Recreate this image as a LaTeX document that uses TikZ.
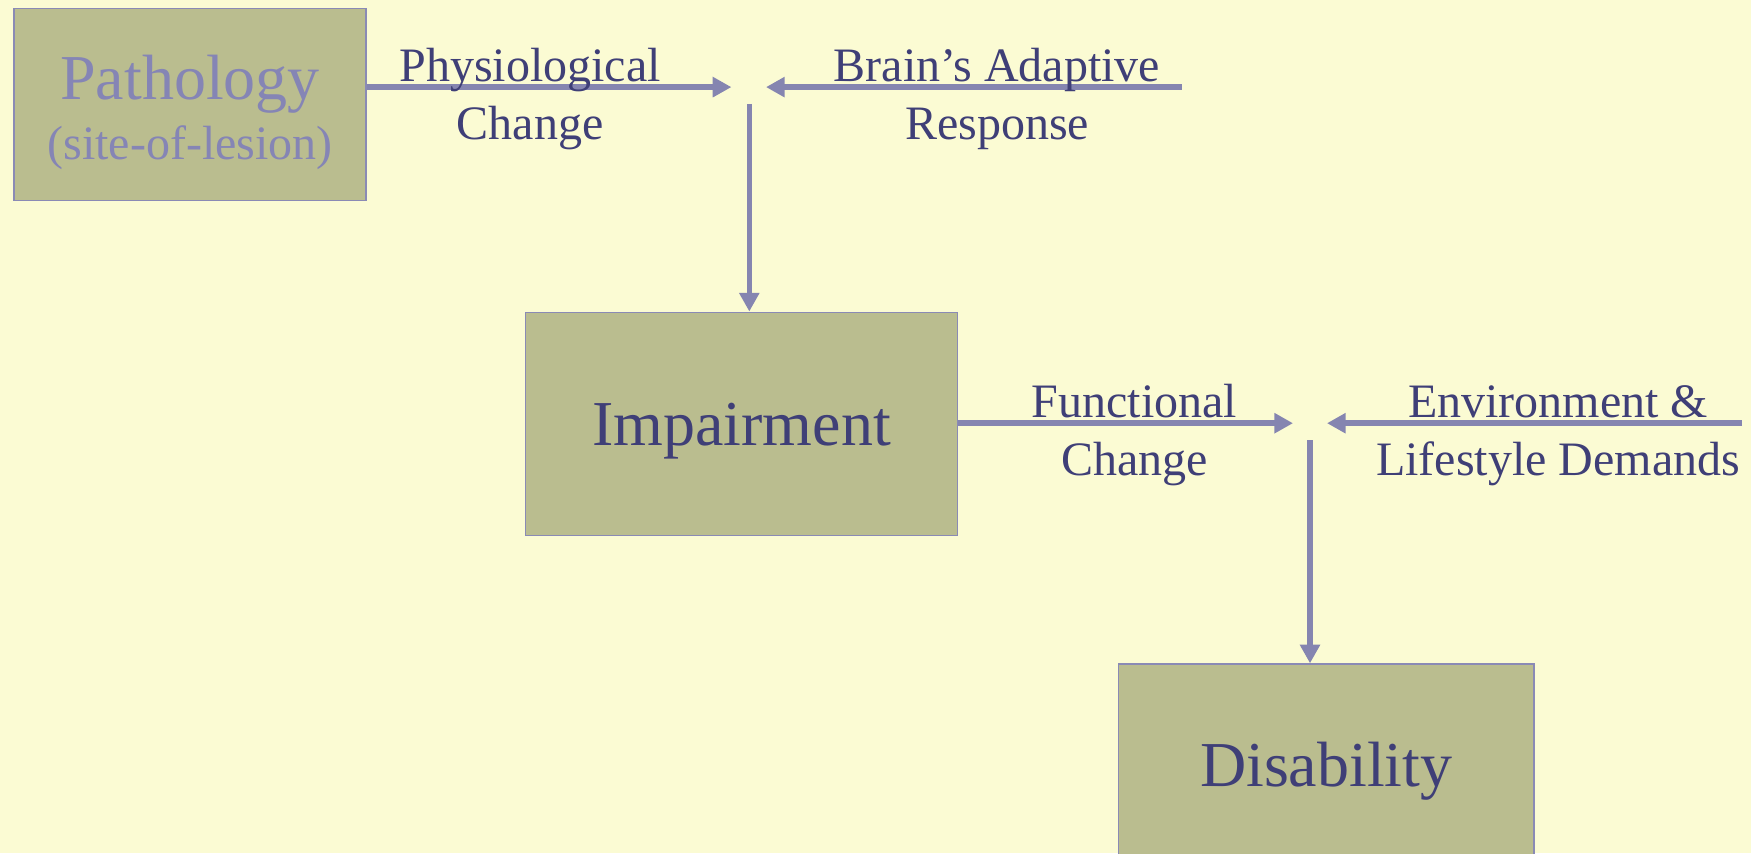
\documentclass[tikz,border=0pt]{standalone}
\usepackage{fontspec}
\setmainfont{Liberation Serif}
\usetikzlibrary{arrows.meta}
\definecolor{bg}{HTML}{FBFBD3}
\definecolor{boxfill}{HTML}{BABD8F}
\definecolor{boxline}{HTML}{8A8AB5}
\definecolor{txt}{HTML}{3F3F77}
\definecolor{lighttxt}{HTML}{8585B5}
\definecolor{arrcol}{HTML}{8585B0}
\begin{document}
\begin{tikzpicture}[x=0.75pt,y=-0.75pt,
  box/.style={draw=boxline, line width=1.1pt, fill=boxfill, inner sep=0pt, anchor=north west, align=center},
  conn/.style={draw=arrcol, line width=4.1pt, -{Triangle[length=14pt,width=14.5pt]}},
  lbl/.style={text=txt, font=\fontsize{36}{43.5}\selectfont, align=center, inner sep=0pt},
  big/.style={font=\fontsize{48}{56}\selectfont}]
\useasboundingbox (0,0) rectangle (1751,853);
\clip (0,0) rectangle (1751,853);
\fill[bg] (0,0) rectangle (1751,853);

% boxes
\node[box, minimum width=264pt, minimum height=144pt] (path) at (13.4,7.8)
  {\rule{0pt}{45pt}\textcolor{lighttxt}{\fontsize{48}{52}\selectfont Pathology}\\[7.7pt]
   \textcolor{lighttxt}{\fontsize{36}{40}\selectfont (site-of-lesion)}};
\node[box, minimum width=324pt, minimum height=167.6pt, big, text=txt,
      text height=44pt, text depth=11pt] (imp) at (524.8,311.5) {Impairment};
\node[box, minimum width=311.6pt, minimum height=153pt, big, text=txt,
      text height=41pt, text depth=11pt] (dis) at (1117.8,663.3) {Disability};

% junction points
\coordinate (j1L) at (731.4,87.1);
\coordinate (j1R) at (766,87.1);
\coordinate (j1B) at (749.3,103.9);
\coordinate (brainS) at (1181.5,87.1);
\coordinate (j2L) at (1293,423.2);
\coordinate (j2R) at (1327,423.2);
\coordinate (j2B) at (1310,440);
\coordinate (envS) at (1742,423.2);

% connectors
\draw[conn] (path.east |- j1L) -- (j1L);
\draw[conn] (brainS) -- (j1R);
\draw[conn] (j1B) -- (j1B |- imp.north);
\draw[conn] (imp.east |- j2L) -- (j2L);
\draw[conn] (envS) -- (j2R);
\draw[conn] (j2B) -- (j2B |- dis.north);

% labels
\node[lbl] (physio) at (530,99) {Physiological\\Change};
\node[lbl] (brain) at (997,99) {Brain’s Adaptive\\Response};
\node[lbl] (func) at (1134.6,435.5) {Functional\\Change};
\node[lbl] (env) at (1558,435.5) {Environment \&\\Lifestyle Demands};
\end{tikzpicture}
\end{document}
